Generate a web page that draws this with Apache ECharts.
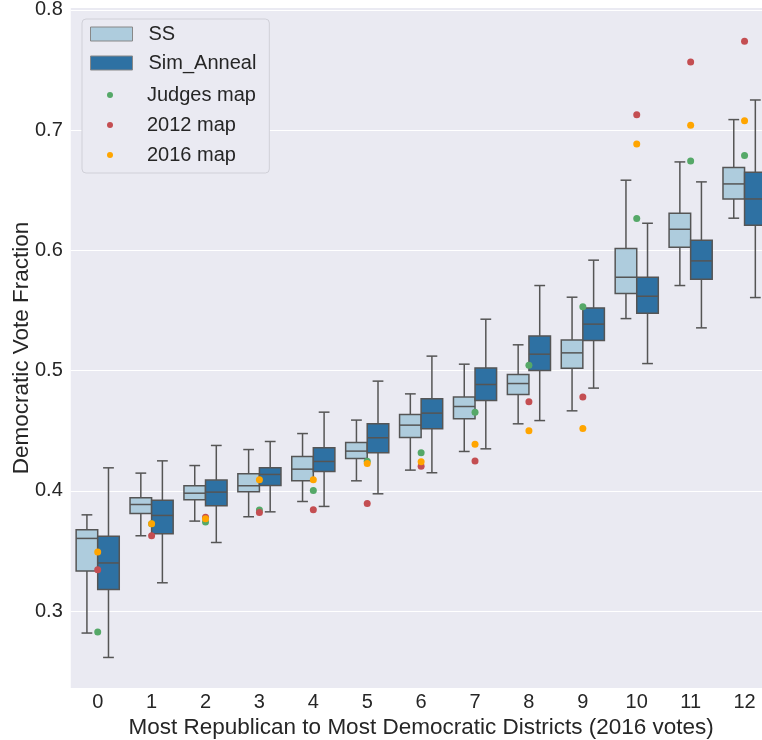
<!DOCTYPE html>
<html>
<head>
<meta charset="utf-8">
<script src="https://cdn.jsdelivr.net/npm/echarts@6/dist/echarts.min.js"></script>
<style>
  html, body { margin: 0; padding: 0; background: #fff; }
  #chart { width: 762px; height: 740px; }
</style>
</head>
<body>
<div id="chart"></div>
<script>
// districts, ordered from most Republican to most Democratic
const categories = ['0', '1', '2', '3', '4', '5', '6', '7', '8', '9', '10', '11', '12']
const yTicks = [0.3, 0.4, 0.5, 0.6, 0.7, 0.8]

// SS ensemble box stats
const ssLow = [0.2817, 0.3626, 0.3748, 0.3784, 0.3911, 0.4083, 0.4172, 0.4327, 0.4557, 0.4665, 0.5432, 0.5707, 0.6267]
const ssQ1 = [0.3333, 0.3811, 0.3925, 0.3992, 0.4083, 0.4269, 0.4443, 0.4599, 0.4800, 0.5020, 0.5640, 0.6026, 0.6427]
const ssMed = [0.3604, 0.3886, 0.3980, 0.4042, 0.4180, 0.4330, 0.4546, 0.4701, 0.4892, 0.5147, 0.5776, 0.6175, 0.6552]
const ssQ3 = [0.3676, 0.3942, 0.4042, 0.4141, 0.4285, 0.4402, 0.4634, 0.4779, 0.4967, 0.5255, 0.6014, 0.6308, 0.6688]
const ssHigh = [0.3800, 0.4147, 0.4210, 0.4343, 0.4476, 0.4588, 0.4806, 0.5053, 0.5214, 0.5610, 0.6583, 0.6735, 0.7087]

// Sim_Anneal ensemble box stats
const saLow = [0.2614, 0.3235, 0.3570, 0.3825, 0.3870, 0.3975, 0.4150, 0.4349, 0.4584, 0.4854, 0.5058, 0.5355, 0.5607]
const saQ1 = [0.3180, 0.3643, 0.3875, 0.4044, 0.4160, 0.4316, 0.4515, 0.4751, 0.5000, 0.5249, 0.5477, 0.5760, 0.6209]
const saMed = [0.3400, 0.3795, 0.3989, 0.4136, 0.4244, 0.4441, 0.4646, 0.4884, 0.5136, 0.5386, 0.5618, 0.5912, 0.6427]
const saQ3 = [0.3623, 0.3922, 0.4089, 0.4191, 0.4357, 0.4557, 0.4765, 0.5022, 0.5288, 0.5521, 0.5776, 0.6084, 0.6649]
const saHigh = [0.4191, 0.4249, 0.4377, 0.4410, 0.4654, 0.4912, 0.5120, 0.5427, 0.5707, 0.5918, 0.6225, 0.6569, 0.7250]

// actual maps
const judgesMap = [0.2826, 0.3726, 0.3740, 0.3840, 0.4002, 0.4245, 0.4316, 0.4654, 0.5045, 0.5530, 0.6264, 0.6743, 0.6788]
const map2012 = [0.3343, 0.3626, 0.3780, 0.3820, 0.3842, 0.3894, 0.4205, 0.4247, 0.4740, 0.4779, 0.7128, 0.7566, 0.7738]
const map2016 = [0.3490, 0.3726, 0.3767, 0.4091, 0.4091, 0.4227, 0.4241, 0.4388, 0.4499, 0.4518, 0.6884, 0.7040, 0.7078]

const EDGE = '#555555'
const SS_COLOR = '#AECCDD'
const SA_COLOR = '#2E71A3'
const FONT = 'Liberation Sans'

const boxRows = (lo, q1, med, q3, hi) => categories.map((_, i) => [i, lo[i], q1[i], med[i], q3[i], hi[i]])
const pointRows = (vals) => categories.map((_, i) => [i, vals[i]])

// side: -1 draws left half of the band, +1 right half
const boxRenderer = (side, fill) => (params, api) => {
  const cat = api.value(0)
  const band = api.size([1, 0])[0]
  const w = band * 0.4
  const cx = api.coord([cat, api.value(3)])[0]
  const x0 = side < 0 ? cx - w : cx
  const xm = x0 + w / 2
  const y = (k) => api.coord([cat, api.value(k)])[1]
  const yLo = y(1), yQ1 = y(2), yMed = y(3), yQ3 = y(4), yHi = y(5)
  const line = { stroke: EDGE, lineWidth: 1.5 }
  return {
    type: 'group',
    children: [
      { type: 'line', shape: { x1: xm, y1: yHi, x2: xm, y2: yQ3 }, style: line },
      { type: 'line', shape: { x1: xm, y1: yQ1, x2: xm, y2: yLo }, style: line },
      { type: 'line', shape: { x1: xm - w / 4, y1: yHi, x2: xm + w / 4, y2: yHi }, style: line },
      { type: 'line', shape: { x1: xm - w / 4, y1: yLo, x2: xm + w / 4, y2: yLo }, style: line },
      { type: 'rect', shape: { x: x0, y: yQ3, width: w, height: yQ1 - yQ3 }, style: { fill, stroke: EDGE, lineWidth: 1.5 } },
      { type: 'line', shape: { x1: x0, y1: yMed, x2: x0 + w, y2: yMed }, style: line }
    ]
  }
}

const chart = echarts.init(document.getElementById('chart'))

const option = {
  animation: false,
  backgroundColor: '#ffffff',
  textStyle: { fontFamily: FONT },
  grid: {
    left: 70.75,
    right: -9.5,
    top: 8,
    bottom: 52,
    outerBoundsMode: 'none',
    containLabel: false,
    show: true,
    backgroundColor: '#EAEAF2',
    borderWidth: 0
  },
  legend: [
    {
      data: [
        { name: 'SS', itemStyle: { color: SS_COLOR, borderColor: '#888', borderWidth: 1 } },
        { name: 'Sim_Anneal', itemStyle: { color: SA_COLOR, borderColor: '#888', borderWidth: 1 } }
      ],
      orient: 'vertical',
      left: 82,
      top: 19,
      padding: [5, 13, 100, 8],
      itemWidth: 42,
      itemHeight: 14,
      itemGap: 9,
      icon: 'rect',
      backgroundColor: '#EAEAF2',
      borderColor: '#D0D0D8',
      borderWidth: 1,
      borderRadius: 4,
      textStyle: { fontFamily: FONT, fontSize: 20, color: '#262626', lineHeight: 20, padding: [0, 0, 0, 11] }
    },
    {
      data: [
        { name: 'Judges map', itemStyle: { color: '#55A868', borderWidth: 0 } },
        { name: '2012 map', itemStyle: { color: '#C44E52', borderWidth: 0 } },
        { name: '2016 map', itemStyle: { color: '#FFA500', borderWidth: 0 } }
      ],
      orient: 'vertical',
      left: 107,
      top: 85,
      padding: 0,
      itemWidth: 42,
      itemHeight: 6,
      itemGap: 10,
      icon: 'circle',
      textStyle: { fontFamily: FONT, fontSize: 20, color: '#262626', lineHeight: 20, padding: [0, 0, 0, 11] }
    }
  ],
  xAxis: {
    type: 'category',
    data: categories,
    name: 'Most Republican to Most Democratic Districts (2016 votes)',
    nameLocation: 'middle',
    nameGap: 28,
    nameMoveOverlap: false,
    nameTextStyle: { fontFamily: FONT, fontSize: 22.5, color: '#262626' },
    axisLine: { show: false },
    axisTick: { show: false },
    axisLabel: { fontFamily: FONT, fontSize: 20, color: '#262626', margin: 4 },
    splitLine: { show: false }
  },
  yAxis: {
    type: 'value',
    min: 0.236,
    max: 0.8015,
    name: 'Democratic Vote Fraction',
    nameLocation: 'middle',
    nameGap: 37,
    nameMoveOverlap: false,
    nameTextStyle: { fontFamily: FONT, fontSize: 22.5, color: '#262626' },
    axisLine: { show: false },
    axisTick: { show: false, customValues: yTicks },
    axisLabel: {
      fontFamily: FONT,
      fontSize: 20,
      color: '#262626',
      margin: 8,
      customValues: yTicks,
      formatter: (v) => v.toFixed(1)
    },
    splitLine: { lineStyle: { color: '#ffffff', width: 1.2 } }
  },
  series: [
    {
      name: 'SS',
      type: 'custom',
      itemStyle: { color: SS_COLOR },
      encode: { x: 0, y: [1, 2, 3, 4, 5] },
      data: boxRows(ssLow, ssQ1, ssMed, ssQ3, ssHigh),
      renderItem: boxRenderer(-1, SS_COLOR),
      z: 2
    },
    {
      name: 'Sim_Anneal',
      type: 'custom',
      itemStyle: { color: SA_COLOR },
      encode: { x: 0, y: [1, 2, 3, 4, 5] },
      data: boxRows(saLow, saQ1, saMed, saQ3, saHigh),
      renderItem: boxRenderer(1, SA_COLOR),
      z: 2
    },
    {
      name: 'Judges map',
      type: 'scatter',
      symbolSize: 7,
      itemStyle: { color: '#55A868', opacity: 1 },
      data: pointRows(judgesMap),
      z: 3
    },
    {
      name: '2012 map',
      type: 'scatter',
      symbolSize: 7,
      itemStyle: { color: '#C44E52', opacity: 1 },
      data: pointRows(map2012),
      z: 4
    },
    {
      name: '2016 map',
      type: 'scatter',
      symbolSize: 7,
      itemStyle: { color: '#FFA500', opacity: 1 },
      data: pointRows(map2016),
      z: 5
    }
  ]
}

chart.setOption(option)
</script>
</body>
</html>
